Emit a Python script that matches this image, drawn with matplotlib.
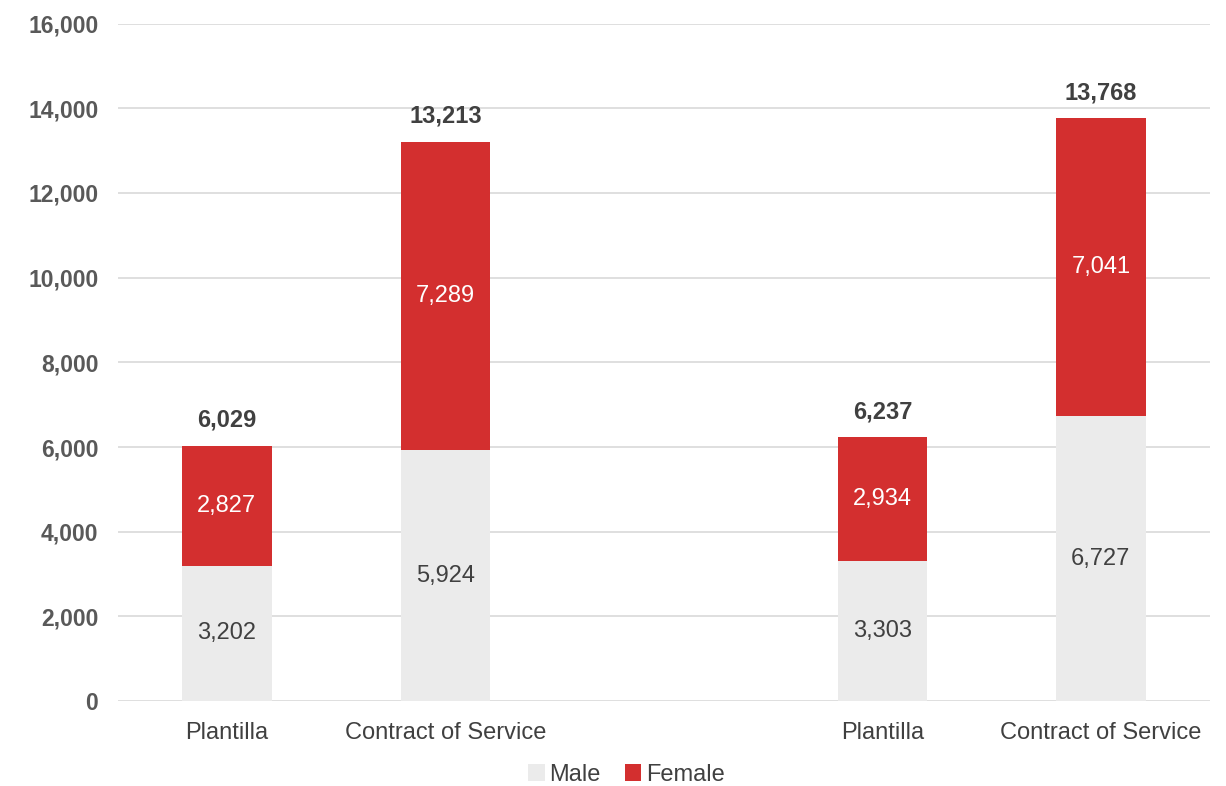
import matplotlib.pyplot as plt
import numpy as np

plt.rcParams['font.family'] = ['Liberation Sans', 'DejaVu Sans']

categories = ['Plantilla', 'Contract of Service', 'Plantilla', 'Contract of Service']
male = [3202, 5924, 3303, 6727]
female = [2827, 7289, 2934, 7041]
totals = [6029, 13213, 6237, 13768]

# two groups of two bars with an empty slot between them
x = np.array([0, 1, 3, 4])
width = 0.41

male_color = '#EBEBEB'
female_color = '#D32F2F'
text_gray = '#595959'

fig = plt.figure(figsize=(12.26, 7.86), dpi=100)
ax = fig.add_axes([0.096, 0.108, 0.891, 0.862])

ax.bar(x, male, width=width, color=male_color, label='Male', zorder=2)
ax.bar(x, female, width=width, bottom=male, color=female_color, label='Female', zorder=2)

for xi, m, f, t in zip(x, male, female, totals):
    ax.text(xi, m / 2, f'{m:,}', ha='center', va='center', fontsize=17, color='#404040')
    ax.text(xi, m + f / 2, f'{f:,}', ha='center', va='center', fontsize=17, color='white')
    ax.text(xi, m + f + 330, f'{t:,}', ha='center', va='bottom', fontsize=17,
            fontweight='bold', color='#404040')

ax.set_xlim(-0.5, 4.5)
ax.set_ylim(0, 16000)
ax.set_yticks(np.arange(0, 16001, 2000))
ax.set_yticklabels([f'{v:,}' for v in range(0, 16001, 2000)], fontsize=16.5,
                   fontweight='bold', color=text_gray)
ax.set_xticks(x)
ax.set_xticklabels(categories, fontsize=17, color='#404040')

ax.grid(axis='y', color='#D9D9D9', linewidth=1.2, zorder=0)
for s in ax.spines.values():
    s.set_visible(False)
ax.tick_params(axis='both', length=0)
ax.tick_params(axis='y', pad=14)
ax.tick_params(axis='x', pad=15)

ax.legend(loc='center', bbox_to_anchor=(0.511, 0.014), bbox_transform=fig.transFigure,
          ncol=2, frameon=False, fontsize=17, handlelength=0.7, handleheight=0.7,
          handletextpad=0.2, columnspacing=1.0, labelcolor='#404040')

fig.savefig('out.png', dpi=100)
